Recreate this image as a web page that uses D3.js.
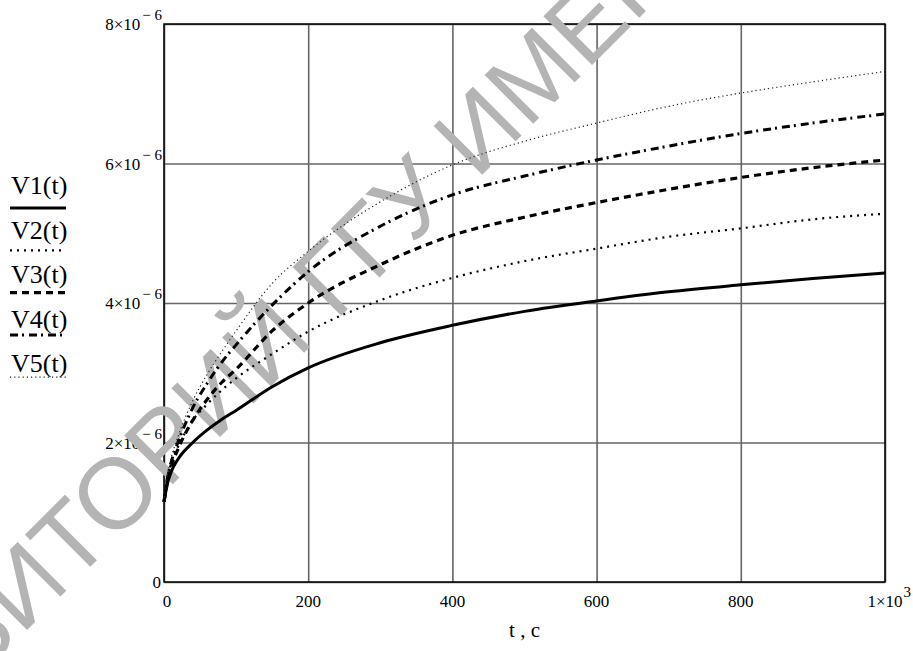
<!DOCTYPE html>
<html lang="ru">
<head>
  <meta charset="UTF-8">
  <title>V(t)</title>
  <script src="https://d3js.org/d3.v7.min.js"></script>
  <style>
    body { margin: 0; background: #fff; }
  </style>
</head>
<body>
  <div id="chart"></div>
  <script>
    // time, s
    const tSec = [0, 5, 10, 20, 40, 60, 80, 100, 150, 200, 300, 400, 500, 600, 700, 800, 900, 1000];
    // V1..V5 (units of 1e-6)
    const V1 = [1.15, 1.42, 1.58, 1.77, 2.00, 2.18, 2.33, 2.46, 2.80, 3.07, 3.43, 3.68, 3.88, 4.03, 4.16, 4.26, 4.35, 4.43];
    const V2 = [1.15, 1.52, 1.70, 1.95, 2.32, 2.55, 2.75, 2.92, 3.27, 3.59, 4.04, 4.36, 4.60, 4.78, 4.95, 5.07, 5.20, 5.28];
    const V3 = [1.15, 1.45, 1.65, 1.92, 2.32, 2.62, 2.86, 3.05, 3.60, 4.00, 4.55, 4.97, 5.23, 5.44, 5.63, 5.80, 5.94, 6.05];
    const V4 = [1.15, 1.50, 1.72, 2.02, 2.50, 2.85, 3.15, 3.40, 3.97, 4.45, 5.10, 5.55, 5.82, 6.05, 6.25, 6.43, 6.58, 6.71];
    const V5 = [1.15, 1.55, 1.78, 2.10, 2.60, 2.98, 3.30, 3.60, 4.28, 4.74, 5.45, 5.98, 6.32, 6.58, 6.82, 7.01, 7.17, 7.32];
    const valueScale = 1e-6;

    const seriesNames = ["V1(t)", "V2(t)", "V3(t)", "V4(t)", "V5(t)"];
    const seriesValues = [V1, V2, V3, V4, V5];

    const xTicks = [0, 200, 400, 600, 800, 1000];
    const xTickLabels = ["0", "200", "400", "600", "800", ["1×10", "3"]];
    const yTicks = [0, 2e-6, 4e-6, 6e-6, 8e-6];
    const yTickLabels = ["0", ["2×10", "− 6"], ["4×10", "− 6"], ["6×10", "− 6"], ["8×10", "− 6"]];
    const xTitle = "t , c";
    const watermarkText = "РЕПОЗИТОРИЙ ГГУ ИМЕНИ Ф.СКОРИНЫ";

    const W = 913, H = 651;
    const plot = { left: 164, right: 885, top: 24, bottom: 582 };
    const serif = "'Liberation Serif', 'Times New Roman', serif";

    // line styles of the Mathcad traces
    const styles = [
      { width: 3, dash: null, color: "#000" },
      { width: 2.2, dash: "2,5", color: "#000" },
      { width: 3.2, dash: "7,5", color: "#000" },
      { width: 3, dash: "8,4,2,5", color: "#000" },
      { width: 1.2, dash: "1.2,3", color: "#222" }
    ];

    const svg = d3.select("#chart").append("svg")
      .attr("width", W)
      .attr("height", H)
      .attr("font-family", serif);

    const x = d3.scaleLinear().domain([0, 1000]).range([plot.left, plot.right]);
    const y = d3.scaleLinear().domain([0, 8e-6]).range([plot.bottom, plot.top]);

    // grid lines through the axes
    svg.append("g")
      .attr("transform", `translate(0,${plot.bottom})`)
      .call(d3.axisBottom(x).tickValues(xTicks).tickSizeInner(-(plot.bottom - plot.top)).tickSizeOuter(0).tickFormat(""))
      .call(g => g.select(".domain").remove())
      .call(g => g.selectAll("line").attr("stroke", "#666").attr("stroke-width", 1.6));

    svg.append("g")
      .attr("transform", `translate(${plot.left},0)`)
      .call(d3.axisLeft(y).tickValues(yTicks).tickSizeInner(-(plot.right - plot.left)).tickSizeOuter(0).tickFormat(""))
      .call(g => g.select(".domain").remove())
      .call(g => g.selectAll("line").attr("stroke", "#666").attr("stroke-width", 1.6));

    svg.append("rect")
      .attr("x", plot.left).attr("y", plot.top)
      .attr("width", plot.right - plot.left).attr("height", plot.bottom - plot.top)
      .attr("fill", "none").attr("stroke", "#000").attr("stroke-width", 1.5);

    // y tick labels
    yTicks.forEach((v, i) => {
      const lab = yTickLabels[i];
      const t = svg.append("text")
        .attr("font-family", serif)
        .attr("x", 161)
        .attr("y", y(v) + 6)
        .attr("text-anchor", "end")
        .attr("font-size", 17);
      if (Array.isArray(lab)) {
        t.attr("x", 162);
        t.append("tspan").text(lab[0]);
        t.append("tspan").attr("dy", -10).attr("font-size", 15).attr("dx", 2).text(lab[1]);
      } else {
        t.text(lab);
      }
    });

    // x tick labels
    xTicks.forEach((v, i) => {
      const lab = xTickLabels[i];
      if (Array.isArray(lab)) {
        const t = svg.append("text")
          .attr("font-family", serif)
          .attr("x", x(v))
          .attr("y", 607)
          .attr("text-anchor", "middle")
          .attr("font-size", 17)
          .text(lab[0]);
        const len = t.node().getComputedTextLength();
        svg.append("text")
          .attr("font-family", serif)
          .attr("x", x(v) + len / 2 + 1)
          .attr("y", 597)
          .attr("font-size", 15)
          .text(lab[1]);
      } else {
        svg.append("text")
          .attr("font-family", serif)
          .attr("x", x(v) + (v === 0 ? 3 : 0))
          .attr("y", 607)
          .attr("text-anchor", "middle")
          .attr("font-size", 17)
          .text(lab);
      }
    });

    svg.append("text")
      .attr("font-family", serif)
      .attr("x", (plot.left + plot.right) / 2)
      .attr("y", 637)
      .attr("text-anchor", "middle")
      .attr("font-size", 21)
      .text(xTitle);

    // watermark, rotated, "Т" of the word placed near the lower left corner
    const wm = svg.append("text")
      .attr("font-family", "'Liberation Sans', Arial, sans-serif")
      .attr("font-size", 100)
      .attr("fill", "#b4b4b4")
      .text(watermarkText);
    const pre = wm.node().getSubStringLength(0, 6);
    const sx = 72 - pre * Math.SQRT1_2, sy = 585 + pre * Math.SQRT1_2;
    wm.attr("transform", `translate(${sx},${sy}) rotate(-45)`);

    // curves
    const line = d3.line()
      .x((d, i) => x(tSec[i]))
      .y(d => y(d * valueScale))
      .curve(d3.curveMonotoneX);

    seriesValues.forEach((vals, k) => {
      const s = styles[k];
      svg.append("path")
        .datum(vals)
        .attr("d", line)
        .attr("fill", "none")
        .attr("stroke", s.color)
        .attr("stroke-width", s.width)
        .attr("stroke-dasharray", s.dash);
    });

    // legend on the left
    seriesNames.forEach((name, k) => {
      const s = styles[k];
      svg.append("text")
        .attr("font-family", serif)
        .attr("x", 11)
        .attr("y", 194 + k * 44.5)
        .attr("font-size", 26)
        .text(name);
      svg.append("line")
        .attr("x1", 10).attr("x2", 66)
        .attr("y1", 208 + k * 42.3).attr("y2", 208 + k * 42.3)
        .attr("stroke", s.color)
        .attr("stroke-width", s.width)
        .attr("stroke-dasharray", s.dash);
    });
  </script>
</body>
</html>
